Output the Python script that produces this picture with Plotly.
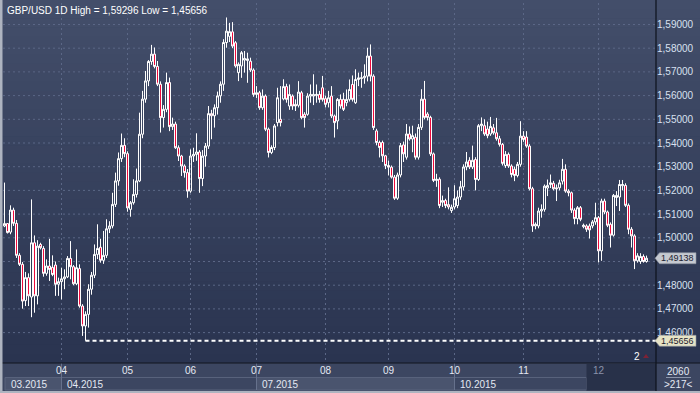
import plotly.graph_objects as go

# ---------------- data ----------------
opens = [1.5050,1.5060,1.5024,1.5117,1.5061,1.4926,1.4888,1.4735,1.4832,1.4750,
         1.4979,1.4755,1.4972,1.4955,1.4850,1.4881,1.4875,1.4885,1.4804,1.4815,
         1.4827,1.4835,1.4913,1.4878,1.4806,1.4870,1.4712,1.4628,1.4677,1.4783,
         1.4842,1.4930,1.4960,1.4905,1.4926,1.5038,1.5050,1.5141,1.5240,1.5334,
         1.5390,1.5355,1.5120,1.5148,1.5183,1.5240,1.5437,1.5585,1.5662,1.5744,
         1.5775,1.5723,1.5648,1.5507,1.5542,1.5655,1.5469,1.5480,1.5380,1.5345,
         1.5303,1.5275,1.5197,1.5345,1.5352,1.5362,1.5250,1.5345,1.5387,1.5524,
         1.5515,1.5549,1.5599,1.5648,1.5824,1.5850,1.5869,1.5823,1.5697,1.5725,
         1.5750,1.5748,1.5745,1.5708,1.5605,1.5612,1.5549,1.5598,1.5458,1.5360,
         1.5381,1.5486,1.5500,1.5586,1.5638,1.5556,1.5598,1.5563,1.5559,1.5612,
         1.5521,1.5521,1.5598,1.5598,1.5600,1.5605,1.5633,1.5587,1.5570,1.5598,
         1.5514,1.5493,1.5584,1.5584,1.5570,1.5584,1.5647,1.5570,1.5668,1.5672,
         1.5675,1.5682,1.5767,1.5682,1.5451,1.5402,1.5402,1.5346,1.5305,1.5298,
         1.5256,1.5167,1.5265,1.5392,1.5340,1.5438,1.5417,1.5424,1.5340,1.5466,
         1.5585,1.5522,1.5508,1.5354,1.5242,1.5247,1.5150,1.5157,1.5140,1.5115,
         1.5130,1.5136,1.5172,1.5215,1.5299,1.5327,1.5299,1.5330,1.5246,1.5473,
         1.5473,1.5459,1.5438,1.5464,1.5443,1.5418,1.5394,1.5305,1.5352,1.5303,
         1.5289,1.5263,1.5310,1.5429,1.5425,1.5387,1.5207,1.5050,1.5050,1.5113,
         1.5120,1.5210,1.5225,1.5230,1.5211,1.5211,1.5239,1.5289,1.5197,1.5190,
         1.5117,1.5081,1.5127,1.5047,1.5050,1.5050,1.5050,1.5067,1.5085,1.4945,
         1.5155,1.5109,1.5057,1.5011,1.5170,1.5172,1.5220,1.5221,1.5137,1.5036,
         1.5008,1.4903,1.4900,1.4921,1.4900]
highs = [1.5233,1.5062,1.5137,1.5127,1.5075,1.4935,1.4898,1.4856,1.4850,1.5162,
         1.5010,1.4990,1.4979,1.4965,1.4909,1.4996,1.4926,1.4900,1.4832,1.4874,
         1.4867,1.4923,1.4986,1.4885,1.4951,1.4888,1.4720,1.4690,1.4804,1.4856,
         1.4972,1.5057,1.4996,1.5029,1.5078,1.5070,1.5190,1.5275,1.5360,1.5440,
         1.5420,1.5365,1.5155,1.5247,1.5292,1.5528,1.5620,1.5704,1.5750,1.5814,
         1.5803,1.5746,1.5660,1.5560,1.5697,1.5676,1.5507,1.5490,1.5390,1.5350,
         1.5310,1.5290,1.5373,1.5380,1.5441,1.5370,1.5370,1.5400,1.5556,1.5540,
         1.5563,1.5617,1.5660,1.5838,1.59296,1.5907,1.5910,1.5830,1.5740,1.5788,
         1.5788,1.5781,1.5760,1.5715,1.5640,1.5620,1.5626,1.5605,1.5465,1.5390,
         1.5480,1.5633,1.5640,1.5669,1.5650,1.5647,1.5605,1.5584,1.5661,1.5620,
         1.5530,1.5610,1.5647,1.5690,1.5647,1.5620,1.5683,1.5600,1.5620,1.5640,
         1.5520,1.5590,1.5605,1.5612,1.5626,1.5668,1.5685,1.5711,1.5697,1.5700,
         1.5732,1.5802,1.5816,1.5690,1.5460,1.5410,1.5410,1.5350,1.5326,1.5305,
         1.5265,1.5275,1.5400,1.5406,1.5480,1.5470,1.5473,1.5440,1.5480,1.5627,
         1.5662,1.5530,1.5515,1.5360,1.5270,1.5255,1.5178,1.5165,1.5213,1.5140,
         1.5222,1.5200,1.5240,1.5310,1.5362,1.5340,1.5389,1.5340,1.5480,1.5508,
         1.5500,1.5490,1.5510,1.5480,1.5506,1.5430,1.5400,1.5366,1.5360,1.5310,
         1.5300,1.5320,1.5492,1.5450,1.5450,1.5395,1.5215,1.5065,1.5127,1.5141,
         1.5225,1.5246,1.5267,1.5240,1.5225,1.5245,1.5333,1.5310,1.5205,1.5195,
         1.5125,1.5134,1.5134,1.5060,1.5057,1.5060,1.5075,1.5148,1.5092,1.5165,
         1.5165,1.5115,1.5065,1.5185,1.5197,1.5244,1.5244,1.5230,1.5145,1.5045,
         1.5015,1.4935,1.4935,1.4930,1.4925]
lows = [1.5045,1.5018,1.5015,1.5050,1.4915,1.4881,1.4701,1.4712,1.4712,1.4665,
        1.4684,1.4719,1.4951,1.4836,1.4840,1.4818,1.4838,1.4755,1.4755,1.4740,
        1.4783,1.4830,1.4825,1.4800,1.4800,1.4705,1.4586,1.45656,1.4621,1.4760,
        1.4830,1.4910,1.4895,1.4890,1.4915,1.5020,1.5040,1.5130,1.5220,1.5320,
        1.5340,1.5110,1.5089,1.5140,1.5170,1.5235,1.5420,1.5570,1.5640,1.5730,
        1.5715,1.5640,1.5444,1.5465,1.5530,1.5450,1.5455,1.5375,1.5324,1.5261,
        1.5254,1.5169,1.5190,1.5320,1.5325,1.5190,1.5218,1.5300,1.5375,1.5416,
        1.5465,1.5520,1.5570,1.5620,1.5802,1.5826,1.5800,1.5718,1.5661,1.5675,
        1.5697,1.5654,1.5700,1.5595,1.5590,1.5540,1.5540,1.5450,1.5339,1.5353,
        1.5370,1.5470,1.5470,1.5580,1.5570,1.5540,1.5540,1.5535,1.5550,1.5500,
        1.5465,1.5515,1.5570,1.5560,1.5570,1.5570,1.5575,1.5550,1.5550,1.5505,
        1.5423,1.5458,1.5545,1.5535,1.5555,1.5575,1.5575,1.5565,1.5640,1.5633,
        1.5650,1.5660,1.5660,1.5455,1.5390,1.5339,1.5320,1.5290,1.5263,1.5250,
        1.5160,1.5160,1.5255,1.5320,1.5330,1.5410,1.5361,1.5330,1.5330,1.5455,
        1.5500,1.5495,1.5345,1.5235,1.5215,1.5125,1.5130,1.5125,1.5120,1.5105,
        1.5120,1.5125,1.5160,1.5200,1.5285,1.5290,1.5290,1.5200,1.5240,1.5450,
        1.5430,1.5420,1.5430,1.5435,1.5410,1.5385,1.5305,1.5295,1.5295,1.5255,
        1.5239,1.5255,1.5300,1.5405,1.5380,1.5200,1.5025,1.5036,1.5040,1.5085,
        1.5110,1.5176,1.5210,1.5200,1.5155,1.5200,1.5225,1.5190,1.5175,1.5105,
        1.5057,1.5057,1.5070,1.5040,1.5025,1.4997,1.5040,1.5055,1.4896,1.4903,
        1.5100,1.5045,1.4959,1.5005,1.5134,1.5113,1.5200,1.5130,1.5015,1.4959,
        1.4868,1.4895,1.4890,1.4895,1.4895]
closes = [1.5060,1.5022,1.5117,1.5061,1.4926,1.4888,1.4733,1.4832,1.4755,1.4979,
          1.4755,1.4965,1.4958,1.4850,1.4881,1.4866,1.4845,1.4804,1.4815,1.4827,
          1.4835,1.4913,1.4878,1.4806,1.4874,1.4712,1.4628,1.4677,1.4783,1.4842,
          1.4930,1.4955,1.4905,1.4926,1.5038,1.5050,1.5141,1.5240,1.5334,1.5390,
          1.5355,1.5126,1.5148,1.5183,1.5240,1.5437,1.5585,1.5662,1.5744,1.5775,
          1.5723,1.5648,1.5507,1.5542,1.5655,1.5469,1.5480,1.5380,1.5345,1.5303,
          1.5275,1.5197,1.5345,1.5352,1.5362,1.5250,1.5345,1.5387,1.5524,1.5515,
          1.5549,1.5599,1.5648,1.5824,1.5872,1.5870,1.5809,1.5725,1.5732,1.5781,
          1.5757,1.5755,1.5708,1.5605,1.5612,1.5549,1.5598,1.5458,1.5360,1.5381,
          1.5472,1.5591,1.5486,1.5638,1.5584,1.5605,1.5556,1.5556,1.5615,1.5507,
          1.5507,1.5598,1.5605,1.5605,1.5605,1.5584,1.5584,1.5563,1.5591,1.5514,
          1.5486,1.5584,1.5556,1.5542,1.5584,1.5626,1.5584,1.5668,1.5675,1.5675,
          1.5682,1.5767,1.5682,1.5465,1.5402,1.5381,1.5346,1.5305,1.5298,1.5256,
          1.5167,1.5265,1.5389,1.5354,1.5438,1.5417,1.5431,1.5340,1.5466,1.5585,
          1.5508,1.5508,1.5354,1.5242,1.5247,1.5136,1.5157,1.5136,1.5130,1.5129,
          1.5165,1.5172,1.5215,1.5299,1.5320,1.5299,1.5327,1.5246,1.5473,1.5480,
          1.5438,1.5431,1.5470,1.5443,1.5418,1.5394,1.5314,1.5352,1.5303,1.5267,
          1.5263,1.5310,1.5429,1.5415,1.5387,1.5207,1.5050,1.5057,1.5113,1.5120,
          1.5218,1.5221,1.5232,1.5207,1.5207,1.5232,1.5289,1.5197,1.5190,1.5117,
          1.5081,1.5127,1.5078,1.5053,1.5036,1.5033,1.5067,1.5085,1.4945,1.5155,
          1.5109,1.5053,1.5011,1.5179,1.5179,1.5225,1.5225,1.5137,1.5036,1.5008,
          1.4903,1.4924,1.4921,1.4900,1.49138]

month_labels = ["04", "05", "06", "07", "08", "09", "10", "11", "12"]
month_start_bar = [19, 41, 62, 84, 107, 128, 150, 173, 198]
period_labels = ["03.2015", "04.2015", "07.2015", "10.2015"]
period_start_bar = [0, 19, 84, 150]
view_start_bar = 194
price_ticks = [1.46, 1.47, 1.48, 1.49, 1.50, 1.51, 1.52, 1.53,
               1.54, 1.55, 1.56, 1.57, 1.58, 1.59]
symbol = "GBP/USD"
timeframe = "1D"
overlay_count = "2"
total_bars_label = "2060"
visible_bars_label = ">217<"

# ---------------- geometry / style ----------------
W, H = 700, 393
PL, PR, PT, PB = 3, 656, 3, 363        # plot area in pixels
STEP = 3.0                             # pixels per bar
FIRST = 4.5                            # pixel centre of the first bar
FONT = "Liberation Sans"
n = len(closes)
xs = list(range(n))
x_range = [(PL - FIRST) / STEP, (PR - FIRST) / STEP]
y_range = [1.59 - (PB - 24.5) / 2370.0, 1.59 + (24.5 - PT) / 2370.0]


def fx(px):
    return (px - PL) / (PR - PL)


def fy(py):
    return (PB - py) / (PB - PT)


def bar_px(i):
    return PL + (i - x_range[0]) / (x_range[1] - x_range[0]) * (PR - PL)


def price_py(p):
    return PT + (y_range[1] - p) / (y_range[1] - y_range[0]) * (PB - PT)


def fmt(v):
    return f"{v:.5f}".replace(".", ",")


last_val = closes[-1]
low_val = min(lows)
low_idx = lows.index(low_val)
# tick labels fully hidden by the last-price tag are not drawn (as in the reference)
shown_ticks = [t for t in price_ticks if abs(price_py(t) - price_py(last_val)) > 6]

fig = go.Figure()
fig.add_trace(go.Candlestick(
    x=xs, open=opens, high=highs, low=lows, close=closes,
    increasing=dict(line=dict(color="#ffffff", width=1), fillcolor="rgba(0,0,0,0)"),
    decreasing=dict(line=dict(color="#ffffff", width=1), fillcolor="#ee0a3c"),
    whiskerwidth=0, hoverinfo="skip", showlegend=False,
))

shapes = []
# background gradient
top_rgb = (67, 78, 106)
bot_rgb = (42, 52, 80)
steps = 40
for k in range(steps):
    t = k / (steps - 1)
    c = tuple(round(top_rgb[j] + (bot_rgb[j] - top_rgb[j]) * t) for j in range(3))
    y0 = PB * k / steps
    y1 = PB * (k + 1) / steps + 0.6
    shapes.append(dict(type="rect", xref="paper", yref="paper", layer="below",
                       x0=fx(0), x1=fx(W), y0=fy(y1), y1=fy(y0),
                       fillcolor="rgb(%d,%d,%d)" % c, line=dict(width=0)))
# bottom panel
shapes.append(dict(type="rect", xref="paper", yref="paper", layer="below",
                   x0=fx(0), x1=fx(W), y0=fy(H), y1=fy(PB),
                   fillcolor="#3c4661", line=dict(width=0)))
# period boxes
period_ends = period_start_bar[1:] + [view_start_bar]
for k, (s, e) in enumerate(zip(period_start_bar, period_ends)):
    x0 = bar_px(s) if k > 0 else 5
    x1 = bar_px(e)
    fill = "#4a546e" if k % 2 == 0 else "#3c4661"
    shapes.append(dict(type="rect", xref="paper", yref="paper", layer="below",
                       x0=fx(x0), x1=fx(x1), y0=fy(390), y1=fy(377.5),
                       fillcolor=fill, line=dict(color="#58627c", width=1)))
    if k > 0:
        shapes.append(dict(type="line", xref="paper", yref="paper", layer="below",
                           x0=fx(x0), x1=fx(x0), y0=fy(390), y1=fy(PB),
                           line=dict(color="#66718c", width=1)))
# current view (dark) area
shapes.append(dict(type="rect", xref="paper", yref="paper", layer="below",
                   x0=fx(bar_px(view_start_bar)), x1=fx(PR), y0=fy(390.5), y1=fy(PB + 1),
                   fillcolor="#283149", line=dict(width=0)))
# vertical separator on right
shapes.append(dict(type="line", xref="paper", yref="paper", layer="above",
                   x0=fx(PR), x1=fx(PR), y0=fy(391), y1=fy(0),
                   line=dict(color="#0c111c", width=1.2)))
# bottom axis line
shapes.append(dict(type="line", xref="paper", yref="paper", layer="above",
                   x0=fx(0), x1=fx(W), y0=fy(PB), y1=fy(PB),
                   line=dict(color="#10151f", width=1.2)))
# frame borders
shapes.append(dict(type="rect", xref="paper", yref="paper", layer="above",
                   x0=fx(0), x1=fx(2.5), y0=fy(H), y1=fy(0),
                   fillcolor="#aeb4c0", line=dict(width=0)))
shapes.append(dict(type="rect", xref="paper", yref="paper", layer="above",
                   x0=fx(0), x1=fx(W), y0=fy(H), y1=fy(391),
                   fillcolor="#aeb4c0", line=dict(width=0)))
# corner separator line
shapes.append(dict(type="line", xref="paper", yref="paper", layer="above",
                   x0=fx(666), x1=fx(691), y0=fy(377.5), y1=fy(377.5),
                   line=dict(color="#8c96ac", width=1)))

# low dashed line
shapes.append(dict(type="line", xref="x", yref="y", layer="above",
                   x0=low_idx, x1=x_range[1], y0=low_val, y1=low_val,
                   line=dict(color="#ffffff", width=2, dash="4px,3px")))

# overlay triangle marker
shapes.append(dict(type="path", xref="paper", yref="paper", layer="above",
                   path="M %f %f L %f %f L %f %f Z" % (fx(643), fy(358), fx(649), fy(358), fx(646), fy(354)),
                   fillcolor="#7d2336", line=dict(width=0)))

annotations = []
# price tags
for val, fill in [(last_val, "#c5c9d0"), (low_val, "#e6e3c6")]:
    cy = price_py(val)
    path = "M %f %f L %f %f L %f %f L %f %f L %f %f L %f %f Z" % (
        fx(655), fy(cy), fx(659.5), fy(cy - 5.5), fx(696), fy(cy - 5.5),
        fx(696), fy(cy + 5.5), fx(659.5), fy(cy + 5.5), fx(655), fy(cy))
    shapes.append(dict(type="path", xref="paper", yref="paper", layer="above",
                       path=path, fillcolor=fill, line=dict(color="#8a919e", width=0.6)))
    annotations.append(dict(x=fx(677.5), y=fy(cy), xref="paper", yref="paper",
                            text=fmt(val), showarrow=False, xanchor="center", yanchor="middle",
                            font=dict(family=FONT, size=9, color="#1c2230")))

# title
annotations.append(dict(x=fx(5), y=fy(10.5), xref="paper", yref="paper",
                        text=f"{symbol} {timeframe} High = {fmt(max(highs))} Low = {fmt(low_val)}",
                        showarrow=False, xanchor="left", yanchor="middle",
                        font=dict(family=FONT, size=10, color="#ffffff")))
# period labels
for s, lab in zip(period_start_bar, period_labels):
    x0 = bar_px(s) if s > 0 else 5
    annotations.append(dict(x=fx(x0 + 3.5), y=fy(384), xref="paper", yref="paper",
                            text=lab, showarrow=False, xanchor="left", yanchor="middle",
                            font=dict(family=FONT, size=10, color="#e4e9f3")))
# corner labels
annotations.append(dict(x=fx(678.5), y=fy(371), xref="paper", yref="paper",
                        text=total_bars_label, showarrow=False, xanchor="center", yanchor="middle",
                        font=dict(family=FONT, size=10, color="#e4e9f3")))
annotations.append(dict(x=fx(678.5), y=fy(384), xref="paper", yref="paper",
                        text=visible_bars_label, showarrow=False, xanchor="center", yanchor="middle",
                        font=dict(family=FONT, size=10, color="#e4e9f3")))
annotations.append(dict(x=fx(637), y=fy(356), xref="paper", yref="paper",
                        text=overlay_count, showarrow=False, xanchor="center", yanchor="middle",
                        font=dict(family=FONT, size=10, color="#ffffff")))

tick_text = [("<span style='color:#8a93aa'>%s</span>" % m) if b >= view_start_bar else m
             for m, b in zip(month_labels, month_start_bar)]

fig.update_layout(
    width=W, height=H, autosize=False,
    margin=dict(l=PL, r=W - PR, t=PT, b=H - PB),
    paper_bgcolor="#2f3954", plot_bgcolor="rgba(0,0,0,0)",
    separators=",.",
    boxgap=1.0 / 3.0, boxgroupgap=0,
    showlegend=False,
    shapes=shapes, annotations=annotations,
    font=dict(family=FONT, size=10, color="#e4e9f3"),
    xaxis=dict(range=x_range, type="linear", rangeslider=dict(visible=False),
               tickmode="array", tickvals=month_start_bar, ticktext=tick_text,
               showgrid=True, gridcolor="#5b6786", griddash="2px,3px", gridwidth=1,
               zeroline=False, showline=False, ticks="",
               tickfont=dict(family=FONT, size=10, color="#e4e9f3")),
    yaxis=dict(range=y_range, side="right", tickmode="array", tickvals=shown_ticks,
               ticktext=[fmt(t) for t in shown_ticks],
               showgrid=False, zeroline=False, showline=False, ticks="",
               tickfont=dict(family=FONT, size=10, color="#d8e0f0")),
)
# horizontal grid for every price level (including those whose label is hidden)
for t in price_ticks:
    fig.add_shape(type="line", xref="paper", yref="y", layer="below",
                  x0=0, x1=1, y0=t, y1=t,
                  line=dict(color="#5b6786", width=1, dash="2px,3px"))

fig.write_html("out.html")
